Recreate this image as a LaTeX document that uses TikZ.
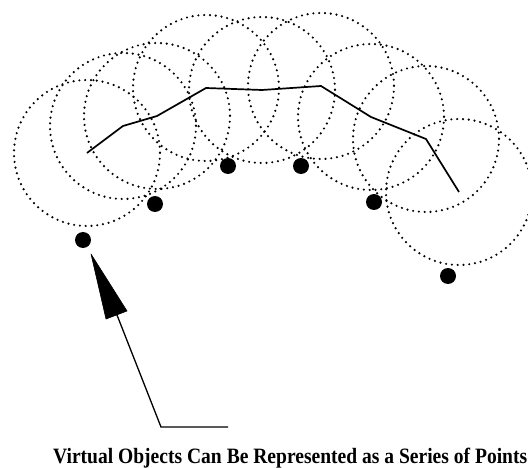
\documentclass[tikz,border=0pt]{standalone}
\usepackage{fontspec}
\setmainfont{Liberation Serif}
\begin{document}
\begin{tikzpicture}[x=1pt,y=-1pt,
  ring/.style={draw=black,line width=2.4pt,line cap=round,dash pattern=on 0pt off 5.8pt},
  pathline/.style={draw=black,line width=1.7pt,line join=round},
  pointdot/.style={circle,fill=black,inner sep=0pt,minimum size=16pt},
  shaft/.style={draw=black,line width=1.3pt},
  headshape/.style={fill=black,draw=black,line width=0.6pt,line join=round},
  caption/.style={anchor=base west,inner sep=0pt}]
\useasboundingbox (0,0) rectangle (528,468);
% path vertices
\coordinate (v1) at (87,153);
\coordinate (v2) at (123,126);
\coordinate (v3) at (157,116);
\coordinate (v4) at (206,88);
\coordinate (v5) at (262,90);
\coordinate (v6) at (321,86);
\coordinate (v7) at (371,117);
\coordinate (v8) at (426,139);
\coordinate (v9) at (459,192);
% dotted circles
\foreach \v in {v1,v2,v3,v4,v5,v6,v7,v8,v9}
  \draw[ring] (\v) circle[radius=73];
% path
\draw[pathline] (v1) -- (v2) -- (v3) -- (v4) -- (v5) -- (v6) -- (v7) -- (v8) -- (v9);
% points
\node[pointdot] (d1) at (83,240) {};
\node[pointdot] (d2) at (155,204) {};
\node[pointdot] (d3) at (228,166) {};
\node[pointdot] (d4) at (301,166) {};
\node[pointdot] (d5) at (374,202) {};
\node[pointdot] (d6) at (448,276) {};
% arrow
\coordinate (tip) at (91,254);
\coordinate (hl) at (106,319);
\coordinate (hr) at (127,311);
\coordinate (hb) at (117,315);
\coordinate (bend) at (161,427);
\coordinate (tailend) at (228,427);
\draw[shaft] (hb) -- (bend) -- (tailend);
\fill[headshape] (tip) -- (hl) -- (hr) -- cycle;
% caption
\node[caption] (cap) at (53,463) {\scalebox{1}[1.12]{\resizebox{474pt}{!}{\bfseries Virtual Objects Can Be Represented as a Series of Points}}};
\end{tikzpicture}
\end{document}
